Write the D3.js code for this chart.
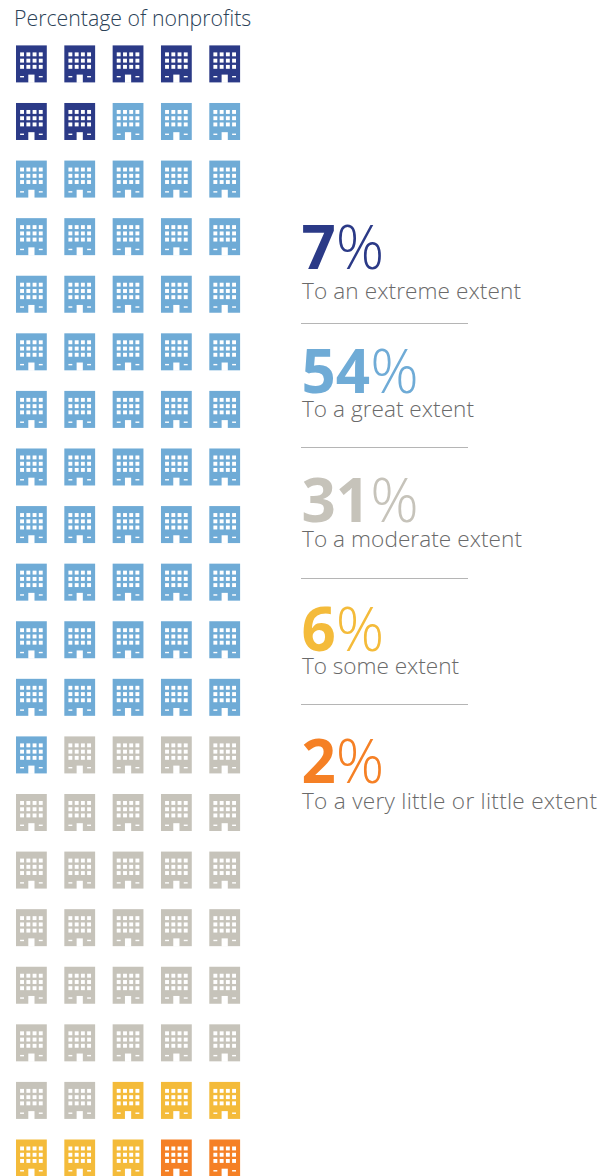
<!DOCTYPE html>
<html>
<head>
<meta charset="utf-8">
<script src="https://cdn.jsdelivr.net/npm/d3@7"></script>
<style>
  html, body { margin: 0; padding: 0; background: #fff; overflow: hidden; }
  text { font-family: "Open Sans", sans-serif; }
</style>
</head>
<body>
<svg id="chart" width="613" height="1176"></svg>
<script>
const categories = ["To an extreme extent", "To a great extent", "To a moderate extent", "To some extent", "To a very little or little extent"];
const percents = [7, 54, 31, 6, 2];
const colors = ["#2b3a87", "#6fabd6", "#c6c3ba", "#f4bb3a", "#f58025"];
const title = "Percentage of nonprofits";

const columnCount = 5;
const rowCount = 20;

const svg = d3.select("#chart");

// One pictogram cell per percentage point, filled column by column along each row.
const cells = percents.flatMap((p, i) => d3.range(p).map(() => i));

const x = d3.scaleLinear().domain([0, columnCount - 1]).range([16, 209.3]);
const y = d3.scaleLinear().domain([0, rowCount - 1]).range([45.4, 1139.5]);

const iconW = 30.8, iconH = 37;
const winXs = [4.1, 10.4, 16.6, 22.8], winYs = [7, 13.3, 19.5];
const winSize = 3.9;

const icon = svg.selectAll("g.icon")
  .data(cells)
  .join("g")
  .attr("class", "icon")
  .attr("transform", (d, i) => `translate(${x(i % columnCount)},${y(Math.floor(i / columnCount))})`);

icon.append("rect")
  .attr("width", iconW).attr("height", iconH)
  .attr("fill", d => colors[d]);

// Windows
winYs.forEach(wy => winXs.forEach(wx => {
  icon.append("rect")
    .attr("x", wx).attr("y", wy)
    .attr("width", winSize).attr("height", winSize)
    .attr("fill", "#fff");
}));

// Door and the two ground-floor slits
icon.append("rect").attr("x", 12.3).attr("y", 29.2).attr("width", 6.2).attr("height", iconH - 29.2 + 0.5).attr("fill", "#fff");
[4.1, 22.8].forEach(sx => {
  icon.append("rect").attr("x", sx).attr("y", 30.6).attr("width", 3.9).attr("height", 1.4).attr("fill", "#fff");
});

svg.append("text")
  .attr("x", 14).attr("y", 26)
  .attr("font-size", 21.3)
  .attr("font-weight", 300)
  .attr("fill", "#2b4257")
  .text(title);

// Legend column: big percentage, caption, separator rule
const numBase = [269, 393, 522, 651, 783];
const capBase = [299, 417, 547, 674, 809];
const capWidth = [219, 172, 220, 157, 295];
const ruleY = [323, 447, 578, 704];

const legend = svg.selectAll("g.entry").data(categories).join("g").attr("class", "entry");

const big = legend.append("text")
  .attr("x", 301.5)
  .attr("y", (d, i) => numBase[i])
  .attr("font-size", 60)
  .attr("fill", (d, i) => colors[i]);
big.append("tspan").attr("font-weight", 700).text((d, i) => percents[i]);
big.append("tspan").attr("font-weight", 300).text("%");

legend.append("text")
  .attr("x", 302)
  .attr("y", (d, i) => capBase[i])
  .attr("font-size", 22.6)
  .attr("font-weight", 300)
  .attr("fill", "#6a6a6a")
  .attr("textLength", (d, i) => capWidth[i])
  .attr("lengthAdjust", "spacing")
  .text(d => d);

svg.selectAll("line.rule").data(ruleY).join("line")
  .attr("class", "rule")
  .attr("x1", 301).attr("x2", 468)
  .attr("y1", d => d + 0.5).attr("y2", d => d + 0.5)
  .attr("stroke", "#b5b5b5").attr("stroke-width", 1);
</script>
</body>
</html>
